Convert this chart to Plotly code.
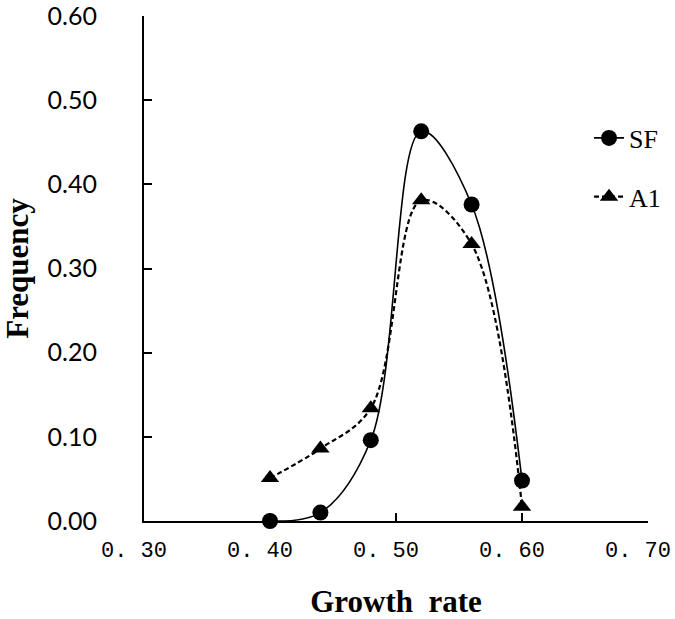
import plotly.graph_objects as go

growth_rate = [0.40, 0.44, 0.48, 0.52, 0.56, 0.60]
sf_freq = [0.000, 0.010, 0.096, 0.463, 0.376, 0.048]
a1_freq = [0.051, 0.086, 0.134, 0.381, 0.329, 0.017]

x_tick_vals = [0.30, 0.40, 0.50, 0.60, 0.70]
x_tick_text = ["0. 30", "0. 40", "0. 50", "0. 60", "0. 70"]
y_tick_vals = [0.0, 0.1, 0.2, 0.3, 0.4, 0.5, 0.6]
y_tick_text = ["0.00", "0.10", "0.20", "0.30", "0.40", "0.50", "0.60"]

fig = go.Figure()
fig.add_trace(go.Scatter(
    x=growth_rate, y=sf_freq, name="SF", mode="lines+markers",
    line=dict(color="black", width=1.6, shape="spline", smoothing=1),
    marker=dict(symbol="circle", size=16, color="black"),
    legendgroup="sf", cliponaxis=False,
))
fig.add_trace(go.Scatter(
    x=growth_rate, y=a1_freq, name="A1", mode="lines+markers",
    line=dict(color="black", width=2.2, dash="5px,3px", shape="spline", smoothing=1),
    marker=dict(symbol="triangle-up", size=16, color="black"),
    legendgroup="a1", cliponaxis=False,
))

fig.update_layout(
    width=675, height=619,
    margin=dict(l=144, r=27, t=16, b=98, autoexpand=False),
    paper_bgcolor="white", plot_bgcolor="white",
    showlegend=True,
    legend=dict(
        x=0.883, y=0.805, xanchor="left", yanchor="top",
        font=dict(family="Liberation Serif", size=26, color="black"),
        traceorder="grouped", tracegroupgap=22,
        bgcolor="rgba(0,0,0,0)",
    ),
    xaxis=dict(
        range=[0.30, 0.70], tickvals=x_tick_vals, ticktext=x_tick_text,
        automargin=False, ticklabeloverflow="allow",
        showgrid=False, zeroline=False, showline=True, linecolor="black", linewidth=2,
        ticks="inside", ticklen=8, tickwidth=2, tickcolor="black",
        tickfont=dict(family="Liberation Mono", size=22, color="black"),
        ticklabelshift=-10, ticklabelstandoff=8,
        title=dict(text="<b>Growth\u00a0\u00a0rate</b>",
                   font=dict(family="Liberation Serif", size=31, color="black"),
                   standoff=34),
    ),
    yaxis=dict(
        range=[0, 0.60], tickvals=y_tick_vals, ticktext=y_tick_text,
        automargin=False, ticklabeloverflow="allow",
        showgrid=False, zeroline=False, showline=True, linecolor="black", linewidth=2,
        ticks="inside", ticklen=8, tickwidth=2, tickcolor="black",
        tickfont=dict(family="Lato", size=25, color="black"),
        ticklabelstandoff=40,
        title=dict(text="<b>Frequency</b>",
                   font=dict(family="Liberation Serif", size=31, color="black"),
                   standoff=13),
    ),
)

fig.write_html("out.html", config={"displayModeBar": False},
               post_script="document.body.style.margin='0';")
